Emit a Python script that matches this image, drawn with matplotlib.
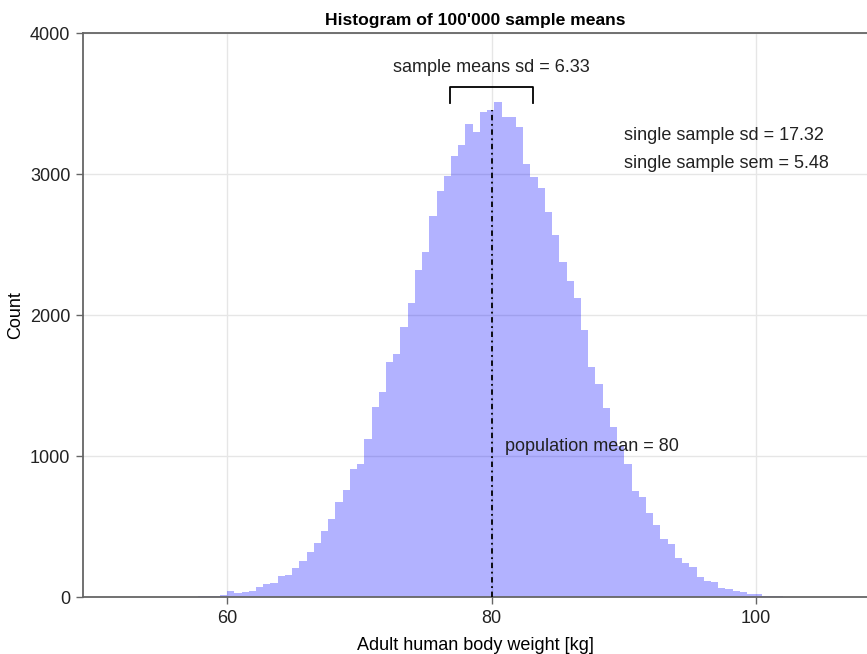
import matplotlib
matplotlib.use("Agg")
import matplotlib.pyplot as plt
import numpy as np

# histogram of sample means, counts (81 bins)
bin_start = 57.784
bin_width = 0.547
counts = [
    10, 8, 12, 20, 45, 30, 42, 48, 73, 99,
    104, 151, 156, 208, 260, 320, 383, 472, 555, 678,
    765, 909, 945, 1120, 1349, 1455, 1666, 1729, 1919, 2084,
    2320, 2450, 2705, 2881, 2988, 3129, 3205, 3355, 3301, 3443,
    3453, 3514, 3407, 3403, 3337, 3072, 2982, 2899, 2734, 2569,
    2374, 2244, 2121, 1896, 1636, 1511, 1343, 1208, 1075, 945,
    757, 714, 596, 512, 417, 379, 278, 247, 218, 147,
    119, 112, 64, 62, 45, 36, 25, 22, 14, 9, 8,
]

pop_mean = 80
means_sd = 6.33
single_sd = 17.32
single_sem = 5.48

x_ticks = [60, 80, 100]
y_ticks = [0, 1000, 2000, 3000, 4000]

plt.rcParams['font.family'] = ['Liberation Sans', 'DejaVu Sans']
plt.rcParams['font.size'] = 13

fig = plt.figure(figsize=(8.67, 6.54), dpi=100)
ax = fig.add_axes([0.0957, 0.0864, 0.9043, 0.8631])

edges = bin_start + bin_width * np.arange(len(counts) + 1)
ax.bar(edges[:-1], counts, width=bin_width, align='edge',
       color=(0, 0, 1, 0.3), linewidth=0, zorder=2)

# population mean line, up to the bar holding the mean
peak_at_mean = counts[np.searchsorted(edges, pop_mean) - 1]
ax.vlines(pop_mean, 0, peak_at_mean, colors='black', linewidth=1.3,
          linestyles=(0, (3, 2, 1, 2)), zorder=3)
ax.text(pop_mean + 1, 1070, 'population mean = %d' % pop_mean,
        ha='left', va='center', color='#222222')

# bracket of one sd of the sample means
half = means_sd / 2
ax.plot([pop_mean - half, pop_mean - half, pop_mean + half, pop_mean + half],
        [3505, 3620, 3620, 3505], color='black', linewidth=1.3, zorder=3)
ax.text(pop_mean, 3755, 'sample means sd = %.2f' % means_sd,
        ha='center', va='center', color='#222222')

ax.text(90, 3272, 'single sample sd = %.2f' % single_sd,
        ha='left', va='center', color='#222222')
ax.text(90, 3075, 'single sample sem = %.2f' % single_sem,
        ha='left', va='center', color='#222222')

ax.set_xlim(49.06, 108.43)
ax.set_ylim(0, 4000)
ax.set_xticks(x_ticks)
ax.set_yticks(y_ticks)
ax.grid(True, color='#e6e6e6', linewidth=1, zorder=0)
ax.set_axisbelow(True)

for side in ['left', 'bottom', 'top']:
    ax.spines[side].set_color('#666666')
    ax.spines[side].set_linewidth(1.3)
ax.spines['right'].set_visible(False)
ax.tick_params(direction='out', length=5, width=1, color='#666666',
               labelcolor='#222222', pad=4)

ax.set_title("Histogram of 100'000 sample means", fontweight='bold',
             fontsize=12.6, pad=6)
ax.set_xlabel('Adult human body weight [kg]', labelpad=7)
ax.set_ylabel('Count', labelpad=4)

fig.savefig('out.png', dpi=100)
